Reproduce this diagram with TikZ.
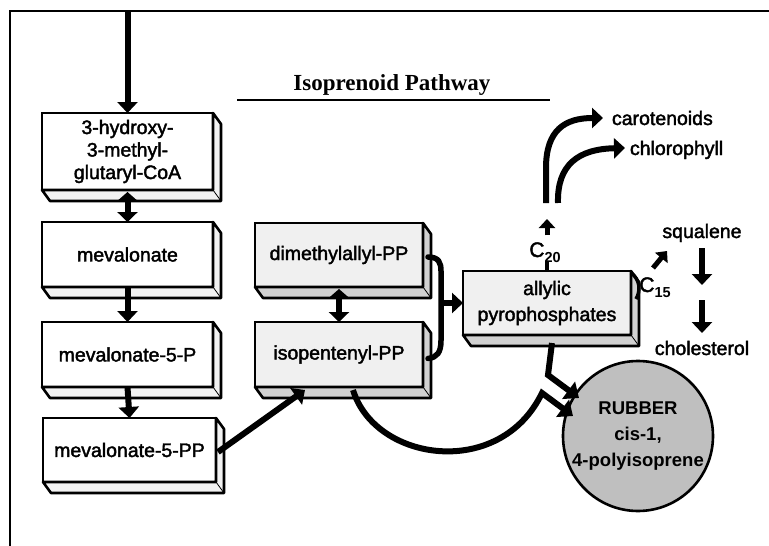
\documentclass[tikz,border=0pt]{standalone}
\usepackage{fontspec}
\setmainfont{Liberation Serif}
\newfontfamily\hvfont{Liberation Sans}[UprightFeatures={FakeBold=2}]
\usetikzlibrary{arrows.meta}
\newcommand\drawslab[2]{%
  \filldraw[fill=#2,line width=2.6pt,line join=round]
    (#1.north east) -- ++(8,11) -- ([shift={(8,11)}]#1.south east)
    -- ([shift={(8,11)}]#1.south west) -- (#1.south west) -- (#1.south east) -- cycle;
  \draw[line width=0.8pt] (#1.south east) -- ++(8,11);}
\begin{document}
\begin{tikzpicture}[x=1pt,y=-1pt,
  every node/.style={inner sep=0pt,outer sep=0pt},
  hv/.style={font=\hvfont\fontsize{19.5}{23}\selectfont},
  facebox/.style={draw,line width=2.8pt,align=center,hv},
  leftbox/.style={facebox,fill=white,minimum width=171pt},
  rightbox/.style={facebox,fill=black!6,minimum width=168pt},
  flow/.style={line width=6pt,-{Triangle[width=20pt,length=11pt]}},
  smallflow/.style={line width=5pt,-{Triangle[width=16pt,length=9pt]}},
  both/.style={line width=6pt,{Triangle[width=20pt,length=9pt]}-{Triangle[width=20pt,length=10pt]}},
  plain/.style={line width=5.5pt,line cap=round}]
\useasboundingbox (0,0) rectangle (769,546);
% frame
\draw[line width=2.2pt] (769,11) -- (10,11) -- (10,546);
% title
\node[font=\bfseries\fontsize{23}{26}\selectfont,anchor=base] (title) at (392,90) {Isoprenoid Pathway};
\draw[line width=1.8pt] (237,100) -- (550,100);
% left column
\node[leftbox,minimum height=77pt,font=\hvfont\fontsize{19.5}{22.5}\selectfont] (hmg) at (127.5,151.5) {3-hydroxy-\\3-methyl-\\glutaryl-CoA};
\node[leftbox,minimum height=65pt] (mev) at (127.5,254.5) {mevalonate};
\node[leftbox,minimum height=65pt] (mevp) at (127.5,354.5) {mevalonate-5-P};
\node[leftbox,minimum width=173pt,minimum height=64pt] (mevpp) at (129.5,450) {mevalonate-5-PP};
\drawslab{hmg}{black!5}
\drawslab{mev}{black!5}
\drawslab{mevp}{black!5}
\drawslab{mevpp}{black!5}
% middle column
\node[rightbox,minimum height=64pt] (dma) at (339,255) {dimethylallyl-PP};
\node[rightbox,minimum height=65pt] (ipp) at (339,354.5) {isopentenyl-PP};
\node[rightbox,minimum height=64pt,font=\hvfont\fontsize{19.5}{26}\selectfont] (ally) at (547,303) {allylic\\pyrophosphates};
\drawslab{dma}{black!18}
\drawslab{ipp}{black!18}
\drawslab{ally}{black!18}
% rubber
\node[circle,draw,line width=2.6pt,fill=black!25,minimum size=150pt,align=center,
  font=\hvfont\bfseries\fontsize{18.5}{26}\selectfont] (rub) at (638,436) {RUBBER\\cis-1,\\4-polyisoprene};
% labels
\node[hv,anchor=base west] (car) at (612,125) {carotenoids};
\node[hv,anchor=base west] (chl) at (630,155) {chlorophyll};
\node[hv,anchor=base] (sq) at (702,238) {squalene};
\node[hv,anchor=base] (chol) at (702,355) {cholesterol};
\node[anchor=base] (c20) at (545,257) {\hvfont\fontsize{21}{21}\selectfont C\raisebox{-5pt}{\fontsize{14.5}{14.5}\selectfont\bfseries 20}};
\node[anchor=base] (c15) at (655,292) {\hvfont\fontsize{21}{21}\selectfont C\raisebox{-5pt}{\fontsize{14.5}{14.5}\selectfont\bfseries 15}};
% coordinates
\coordinate (topin) at (127.5,11);
\coordinate (ippin) at (305,390);
\coordinate (brk) at (441,303);
\coordinate (c20tip) at (547,219);
\coordinate (cstart) at (546,203);
\coordinate (hstart) at (558,203);
\coordinate (sqtail) at (653,268);
\coordinate (sqtip) at (667,251);
\coordinate (sqdown) at (702,285);
\coordinate (choltail) at (702,300);
\coordinate (rubin1) at (579,398);
\coordinate (rubin2) at (573,416);
% arrows left column
\draw[flow] (topin) -- (hmg.north);
\draw[both] ([yshift=-2pt]hmg.south) -- (mev.north);
\draw[flow] (mev.south) -- (mevp.north);
\draw[flow] (mevp.south) -- (mevpp.north);
\draw[flow] ([xshift=2pt,yshift=-2pt]mevpp.east) -- (ippin);
% middle
\draw[both] ([yshift=-2pt]dma.south) -- (ipp.north);
\draw[plain] ([xshift=5pt,yshift=-2pt]dma.east) .. controls ([xshift=16pt,yshift=-2pt]dma.east) and ([xshift=18pt,yshift=-8pt]dma.east) .. ([xshift=18pt,yshift=-16pt]dma.east)
  -- ([xshift=18pt,yshift=14pt]ipp.east) .. controls ([xshift=18pt,yshift=2pt]ipp.east) and ([xshift=14pt,yshift=-3pt]ipp.east) .. ([xshift=5pt,yshift=-4pt]ipp.east);
\draw[flow] (brk) -- (ally.west);
% C20 branch
\draw[line width=4.5pt] (ally.north) -- (ally.north |- c20.south);
\draw[smallflow,shorten <=7pt] (ally.north |- c20.north) -- (c20tip);
\draw[flow] (cstart) -- (546,168) .. controls (546,130) and (565,118) .. ([xshift=-9pt,yshift=7pt]car.base west);
\draw[flow] (hstart) .. controls (557,165) and (578,149) .. ([xshift=-5pt,yshift=7pt]chl.base west);
% C15 branch
\draw[line width=3.5pt] ([yshift=-2pt]ally.north east) .. controls ([xshift=9pt,yshift=-8pt]ally.north east) and ([xshift=10pt,yshift=-20pt]ally.north east) .. ([xshift=5pt,yshift=-28pt]ally.north east);
\draw[smallflow] (sqtail) -- (sqtip);
\draw[flow,shorten <=6pt] (sq.south) -- (sqdown);
\draw[flow] (choltail) -- ([yshift=22pt]chol.base);
% rubber arrows
\draw[line width=6pt,line join=miter,-{Triangle[width=21pt,length=13pt]}] ([xshift=5pt,yshift=-8pt]ally.south) -- (548,375) -- (rubin1);
\draw[line width=6pt,line join=miter,-{Triangle[width=21pt,length=13pt]}] ([xshift=14pt,yshift=-3pt]ipp.south) .. controls (375,462) and (500,480) .. (542,393) -- (rubin2);
\end{tikzpicture}
\end{document}
